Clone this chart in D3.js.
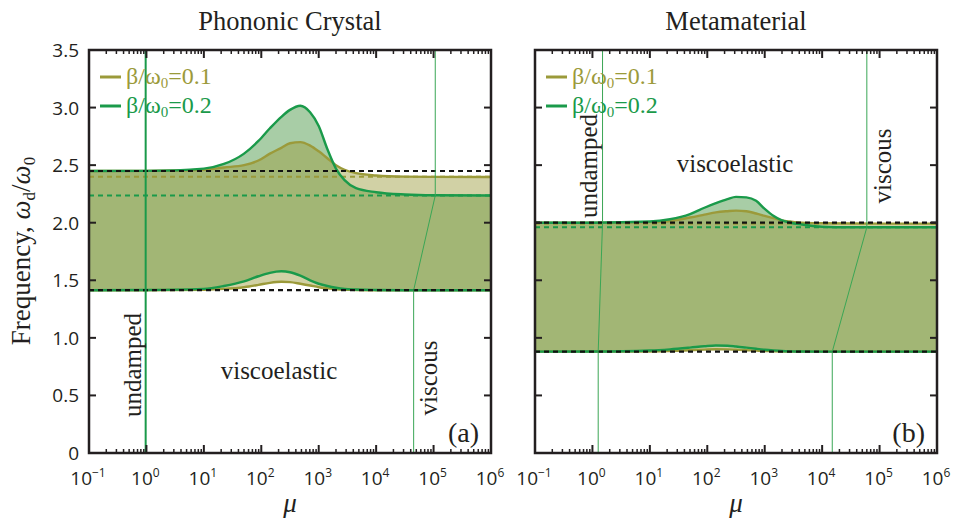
<!DOCTYPE html>
<html>
<head>
<meta charset="utf-8">
<script src="https://cdn.jsdelivr.net/npm/d3@7"></script>
<style>
  body { margin: 0; background: #fff; }
  svg { display: block; }
  .serif { font-family: "Liberation Serif", "DejaVu Serif", serif; }
  .sans { font-family: "Open Sans", "Noto Sans", sans-serif; }
</style>
</head>
<body>
<svg id="chart" width="956" height="526"></svg>
<script>
(function () {
  // log10(mu) sample grid shared by all curves
  const logMu = [-1, 0, 1, 1.35, 1.7, 1.95, 2.15, 2.35, 2.5, 2.68, 2.85, 3.0, 3.15, 3.3, 3.45, 3.65, 4.0, 4.5, 5, 6];

  // Phononic crystal (a)
  const upperA01 = [2.449, 2.45, 2.46, 2.48, 2.50, 2.54, 2.60, 2.65, 2.69, 2.70, 2.67, 2.62, 2.56, 2.50, 2.46, 2.43, 2.41, 2.40, 2.398, 2.397];
  const upperA02 = [2.449, 2.45, 2.47, 2.51, 2.60, 2.71, 2.82, 2.92, 2.98, 3.016, 2.96, 2.84, 2.64, 2.47, 2.37, 2.30, 2.265, 2.245, 2.238, 2.236];
  const lowerA01 = [1.414, 1.414, 1.418, 1.425, 1.44, 1.46, 1.478, 1.487, 1.484, 1.47, 1.455, 1.44, 1.43, 1.422, 1.418, 1.416, 1.414, 1.414, 1.414, 1.414];
  const lowerA02 = [1.414, 1.415, 1.425, 1.45, 1.49, 1.535, 1.565, 1.578, 1.57, 1.54, 1.50, 1.47, 1.45, 1.435, 1.425, 1.42, 1.416, 1.414, 1.414, 1.414];

  // Metamaterial (b)
  const upperB01 = [2.0, 2.0, 2.005, 2.015, 2.045, 2.07, 2.09, 2.10, 2.105, 2.10, 2.08, 2.06, 2.04, 2.02, 2.01, 2.0, 1.995, 1.993, 1.992, 1.992];
  const upperB02 = [2.0, 2.0, 2.01, 2.03, 2.075, 2.13, 2.17, 2.205, 2.224, 2.22, 2.19, 2.12, 2.06, 2.02, 2.0, 1.985, 1.965, 1.96, 1.96, 1.96];
  const lowerB01 = [0.88, 0.882, 0.882, 0.886, 0.893, 0.898, 0.901, 0.90, 0.897, 0.893, 0.889, 0.886, 0.884, 0.882, 0.881, 0.881, 0.88, 0.88, 0.88, 0.88];
  const lowerB02 = [0.88, 0.881, 0.89, 0.90, 0.915, 0.927, 0.934, 0.932, 0.925, 0.915, 0.905, 0.897, 0.891, 0.886, 0.883, 0.881, 0.88, 0.88, 0.88, 0.88];

  // band edges (black dashed) and viscous limits (coloured dashed)
  const bandA = [2.449, 1.414];
  const bandB = [2.0, 0.88];
  const viscLimitA = { b01: 2.40, b02: 2.236 };
  const viscLimitB = { b01: 1.992, b02: 1.96 };

  // regime boundaries [mu, omega]
  const undampedA = [[0.97, 0], [0.97, 3.5]];
  const viscousA = [[4.5e4, 0], [4.5e4, 1.414], [1.07e5, 2.236], [1.07e5, 3.5]];
  const undampedB = [[1.26, 0], [1.26, 0.88], [1.5, 2.0], [1.5, 3.5]];
  const viscousB = [[1.5e4, 0], [1.5e4, 0.88], [6.0e4, 1.96], [6.0e4, 3.5]];

  const yTicks = [0, 0.5, 1.0, 1.5, 2.0, 2.5, 3.0, 3.5];
  const xExponents = [-1, 0, 1, 2, 3, 4, 5, 6];
  const legendLabels = ["0.1", "0.2"];

  const olive = "#9b9a3a";
  const green = "#1a9a4a";
  const thinGreen = "#3aa655";

  const panels = [
    { left: 89, title: "Phononic Crystal", tag: "(a)", up1: upperA01, up2: upperA02, lo1: lowerA01, lo2: lowerA02,
      band: bandA, visc: viscLimitA, lines: [[undampedA, 2, green], [viscousA, 1, thinGreen]],
      notes: [
        { t: "undamped", x: 132, y: 365, rot: true },
        { t: "viscoelastic", x: 279, y: 379 },
        { t: "viscous", x: 428, y: 378, rot: true }
      ], yLabels: true },
    { left: 535, title: "Metamaterial", tag: "(b)", up1: upperB01, up2: upperB02, lo1: lowerB01, lo2: lowerB02,
      band: bandB, visc: viscLimitB, lines: [[undampedB, 1, thinGreen], [viscousB, 1, thinGreen]],
      notes: [
        { t: "undamped", x: 588, y: 166, rot: true },
        { t: "viscoelastic", x: 735, y: 172 },
        { t: "viscous", x: 882, y: 166, rot: true }
      ], yLabels: false }
  ];

  const svg = d3.select("#chart");
  const W = 402, top = 50, bottom = 453;

  panels.forEach((p) => {
    const x = d3.scaleLog().domain([0.1, 1e6]).range([p.left, p.left + W]);
    const y = d3.scaleLinear().domain([0, 3.5]).range([bottom, top]);
    const g = svg.append("g");
    const mu = logMu.map((e) => Math.pow(10, e));

    const area = (lo, up) => d3.area()
      .x((d, i) => x(mu[i]))
      .y0((d, i) => y(lo[i]))
      .y1((d, i) => y(up[i]))
      .curve(d3.curveMonotoneX)(logMu);
    const line = (vals) => d3.line()
      .x((d, i) => x(mu[i]))
      .y((d, i) => y(vals[i]))
      .curve(d3.curveMonotoneX)(logMu);

    g.append("path").attr("d", area(p.lo2, p.up2)).attr("fill", "rgb(62,144,57)").attr("fill-opacity", 0.45);
    g.append("path").attr("d", area(p.lo1, p.up1)).attr("fill", "rgb(155,154,58)").attr("fill-opacity", 0.46);

    // coloured dashed viscous limits
    g.append("line").attr("x1", x(0.1)).attr("x2", x(1e6)).attr("y1", y(p.visc.b01)).attr("y2", y(p.visc.b01))
      .attr("stroke", olive).attr("stroke-width", 2).attr("stroke-dasharray", "5,4");
    g.append("line").attr("x1", x(0.1)).attr("x2", x(1e6)).attr("y1", y(p.visc.b02)).attr("y2", y(p.visc.b02))
      .attr("stroke", green).attr("stroke-width", 2).attr("stroke-dasharray", "5,4");

    [p.up1, p.lo1].forEach((v) => g.append("path").attr("d", line(v)).attr("fill", "none").attr("stroke", olive).attr("stroke-width", 2.4));
    [p.up2, p.lo2].forEach((v) => g.append("path").attr("d", line(v)).attr("fill", "none").attr("stroke", green).attr("stroke-width", 2.4));

    p.band.forEach((b) => g.append("line").attr("x1", x(0.1)).attr("x2", x(1e6)).attr("y1", y(b)).attr("y2", y(b))
      .attr("stroke", "#111").attr("stroke-width", 2.2).attr("stroke-dasharray", "5,4"));

    p.lines.forEach(([pts, w, c]) => {
      g.append("path").attr("d", d3.line().x((d) => x(d[0])).y((d) => y(d[1]))(pts))
        .attr("fill", "none").attr("stroke", c).attr("stroke-width", w);
    });

    // frame
    g.append("rect").attr("x", p.left).attr("y", top).attr("width", W).attr("height", bottom - top)
      .attr("fill", "none").attr("stroke", "#231f20").attr("stroke-width", 2.5);

    // ticks, inward on all sides
    const tk = g.append("g").attr("stroke", "#231f20").attr("stroke-width", 2);
    yTicks.slice(1, -1).forEach((v) => {
      tk.append("line").attr("x1", p.left).attr("x2", p.left + 7).attr("y1", y(v)).attr("y2", y(v));
      tk.append("line").attr("x1", p.left + W).attr("x2", p.left + W - 7).attr("y1", y(v)).attr("y2", y(v));
    });
    xExponents.forEach((e, i) => {
      const base = Math.pow(10, e);
      if (i > 0 && i < xExponents.length - 1) {
        tk.append("line").attr("x1", x(base)).attr("x2", x(base)).attr("y1", bottom).attr("y2", bottom - 8);
        tk.append("line").attr("x1", x(base)).attr("x2", x(base)).attr("y1", top).attr("y2", top + 8);
      }
      if (i < xExponents.length - 1) {
        d3.range(2, 10).forEach((m) => {
          const xv = x(base * m);
          tk.append("line").attr("x1", xv).attr("x2", xv).attr("y1", bottom).attr("y2", bottom - 4).attr("stroke-width", 1.5);
          tk.append("line").attr("x1", xv).attr("x2", xv).attr("y1", top).attr("y2", top + 4).attr("stroke-width", 1.5);
        });
      }
    });

    // x tick labels
    xExponents.forEach((e) => {
      const t = g.append("text").attr("class", "sans").attr("x", x(Math.pow(10, e)) - 1).attr("y", 485)
        .attr("text-anchor", "middle").attr("font-size", 19).attr("fill", "#231f20");
      t.append("tspan").text("10");
      t.append("tspan").attr("dy", -8).attr("font-size", 12).text(e < 0 ? "\u2212" + Math.abs(e) : e);
    });
    if (p.yLabels) {
      yTicks.forEach((v) => {
        g.append("text").attr("class", "sans").attr("x", 79).attr("y", y(v) + 7)
          .attr("text-anchor", "end").attr("font-size", 19).attr("fill", "#231f20")
          .text(v === 0 ? "0" : v.toFixed(1));
      });
    }

    // axis title mu
    g.append("text").attr("class", "serif").attr("x", p.left + W / 2).attr("y", 512)
      .attr("text-anchor", "middle").attr("font-size", 27).attr("font-style", "italic").attr("fill", "#231f20").text("\u03bc");

    // panel title
    g.append("text").attr("class", "serif").attr("x", p.left + W / 2).attr("y", 30)
      .attr("text-anchor", "middle").attr("font-size", 26.5).attr("fill", "#231f20").text(p.title);

    // legend
    [olive, green].forEach((c, i) => {
      const ly = 77 + i * 29;
      g.append("line").attr("x1", p.left + 11).attr("x2", p.left + 32).attr("y1", ly).attr("y2", ly)
        .attr("stroke", c).attr("stroke-width", 3);
      const t = g.append("text").attr("class", "serif").attr("x", p.left + 37).attr("y", ly + 7)
        .attr("font-size", 24).attr("fill", c);
      t.append("tspan").text("\u03b2/\u03c9");
      t.append("tspan").attr("dy", 4).attr("font-size", 15).text("0");
      t.append("tspan").attr("dy", -4).text("=" + legendLabels[i]);
    });

    // regime notes
    p.notes.forEach((n) => {
      g.append("text").attr("class", "serif").attr("font-size", 25).attr("fill", "#231f20")
        .attr("text-anchor", "middle").attr("dominant-baseline", n.rot ? "central" : "auto")
        .attr("transform", n.rot ? `translate(${n.x},${n.y}) rotate(-90)` : `translate(${n.x},${n.y})`)
        .text(n.t);
    });

    g.append("text").attr("class", "serif").attr("x", p.left + W - 12).attr("y", 442)
      .attr("text-anchor", "end").attr("font-size", 28).attr("fill", "#231f20").text(p.tag);
  });

  // y axis title
  const yl = svg.append("text").attr("class", "serif").attr("font-size", 27).attr("fill", "#231f20")
    .attr("text-anchor", "middle").attr("transform", "translate(30,251) rotate(-90)");
  yl.append("tspan").text("Frequency, ");
  yl.append("tspan").attr("font-style", "italic").text("\u03c9");
  yl.append("tspan").attr("dy", 5).attr("font-size", 17).text("d");
  yl.append("tspan").attr("dy", -5).text("/");
  yl.append("tspan").attr("font-style", "italic").text("\u03c9");
  yl.append("tspan").attr("dy", 5).attr("font-size", 17).text("0");
})();
</script>
</body>
</html>
